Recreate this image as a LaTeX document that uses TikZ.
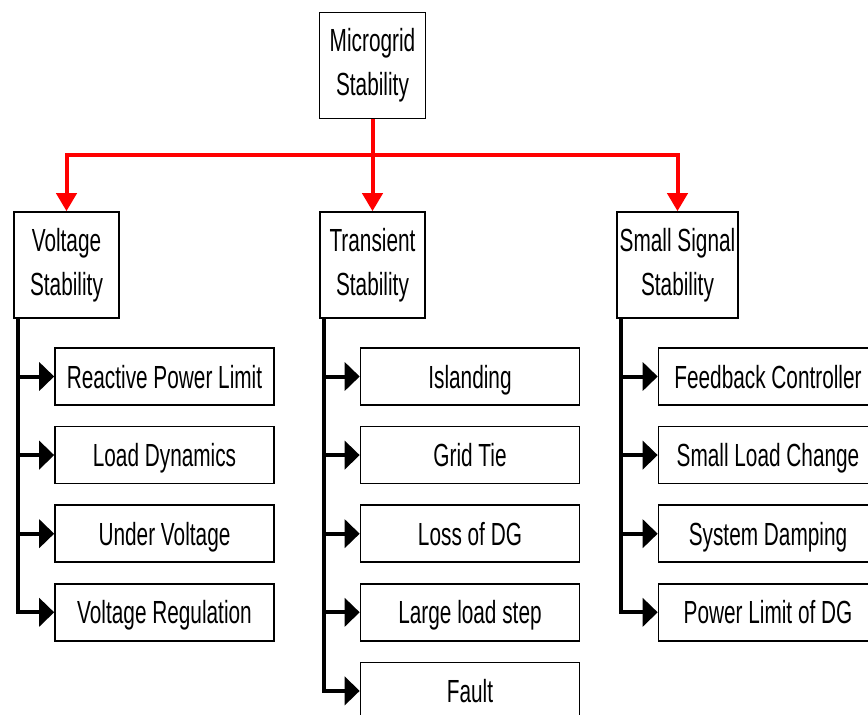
\documentclass[tikz,border=0pt]{standalone}
\usepackage{fontspec}
\setmainfont[FakeStretch=0.65]{Liberation Sans}
\usetikzlibrary{arrows.meta}

\tikzset{
  mainbox/.style={draw, line width=1.6pt, align=center, minimum height=106pt, inner sep=0pt, font=\fontsize{32}{44}\selectfont},
  subbox/.style={draw, line width=1.6pt, minimum width=219pt, minimum height=57pt, inner sep=0pt, text height=23pt, text depth=0pt, font=\fontsize{32}{44}\selectfont},
  redarrow/.style={draw=red, line width=4pt, -{Triangle[length=18pt,width=20pt]}},
  blkarrow/.style={line width=4pt, -{Triangle[length=15pt,width=28pt]}}
}

\begin{document}
\begin{tikzpicture}[x=1pt, y=-1pt]
    \useasboundingbox (0,0) rectangle (868,715);
    % Cajas principales
    \node[mainbox, minimum width=106pt] (mg) at (372.5,65.5) {Microgrid\\Stability};
    \node[mainbox, minimum width=105pt] (vs) at (66.5,265) {Voltage\\Stability};
    \node[mainbox, minimum width=105pt] (ts) at (372.5,265) {Transient\\Stability};
    \node[mainbox, minimum width=121pt] (ss) at (677.5,265) {Small Signal\\Stability};
    % Ramas rojas
    \draw[draw=red, line width=4pt] (mg.south) -- ++(0,36) coordinate (bus);
    \draw[redarrow] (bus) -| (vs.north);
    \draw[redarrow] (bus) -- (ts.north);
    \draw[redarrow] (bus) -| (ss.north);
    % Subcajas
    \foreach \lbl [count=\i] in {Reactive Power Limit, Load Dynamics, Under Voltage, Voltage Regulation} {
        \node[subbox] (vs\i) at (164.5,{376.5+78.6*(\i-1)}) {\lbl};
        \draw[blkarrow] ([xshift=5pt]vs.south west) |- (vs\i.west);
    }
    \foreach \lbl [count=\i] in {Islanding, Grid Tie, Loss of DG, Large load step, Fault} {
        \node[subbox] (ts\i) at (470,{376.5+78.6*(\i-1)}) {\lbl};
        \draw[blkarrow] ([xshift=5pt]ts.south west) |- (ts\i.west);
    }
    \foreach \lbl [count=\i] in {Feedback Controller, Small Load Change, System Damping, Power Limit of DG} {
        \node[subbox] (ss\i) at (768,{376.5+78.6*(\i-1)}) {\lbl};
        \draw[blkarrow] ([xshift=5pt]ss.south west) |- (ss\i.west);
    }
\end{tikzpicture}
\end{document}
